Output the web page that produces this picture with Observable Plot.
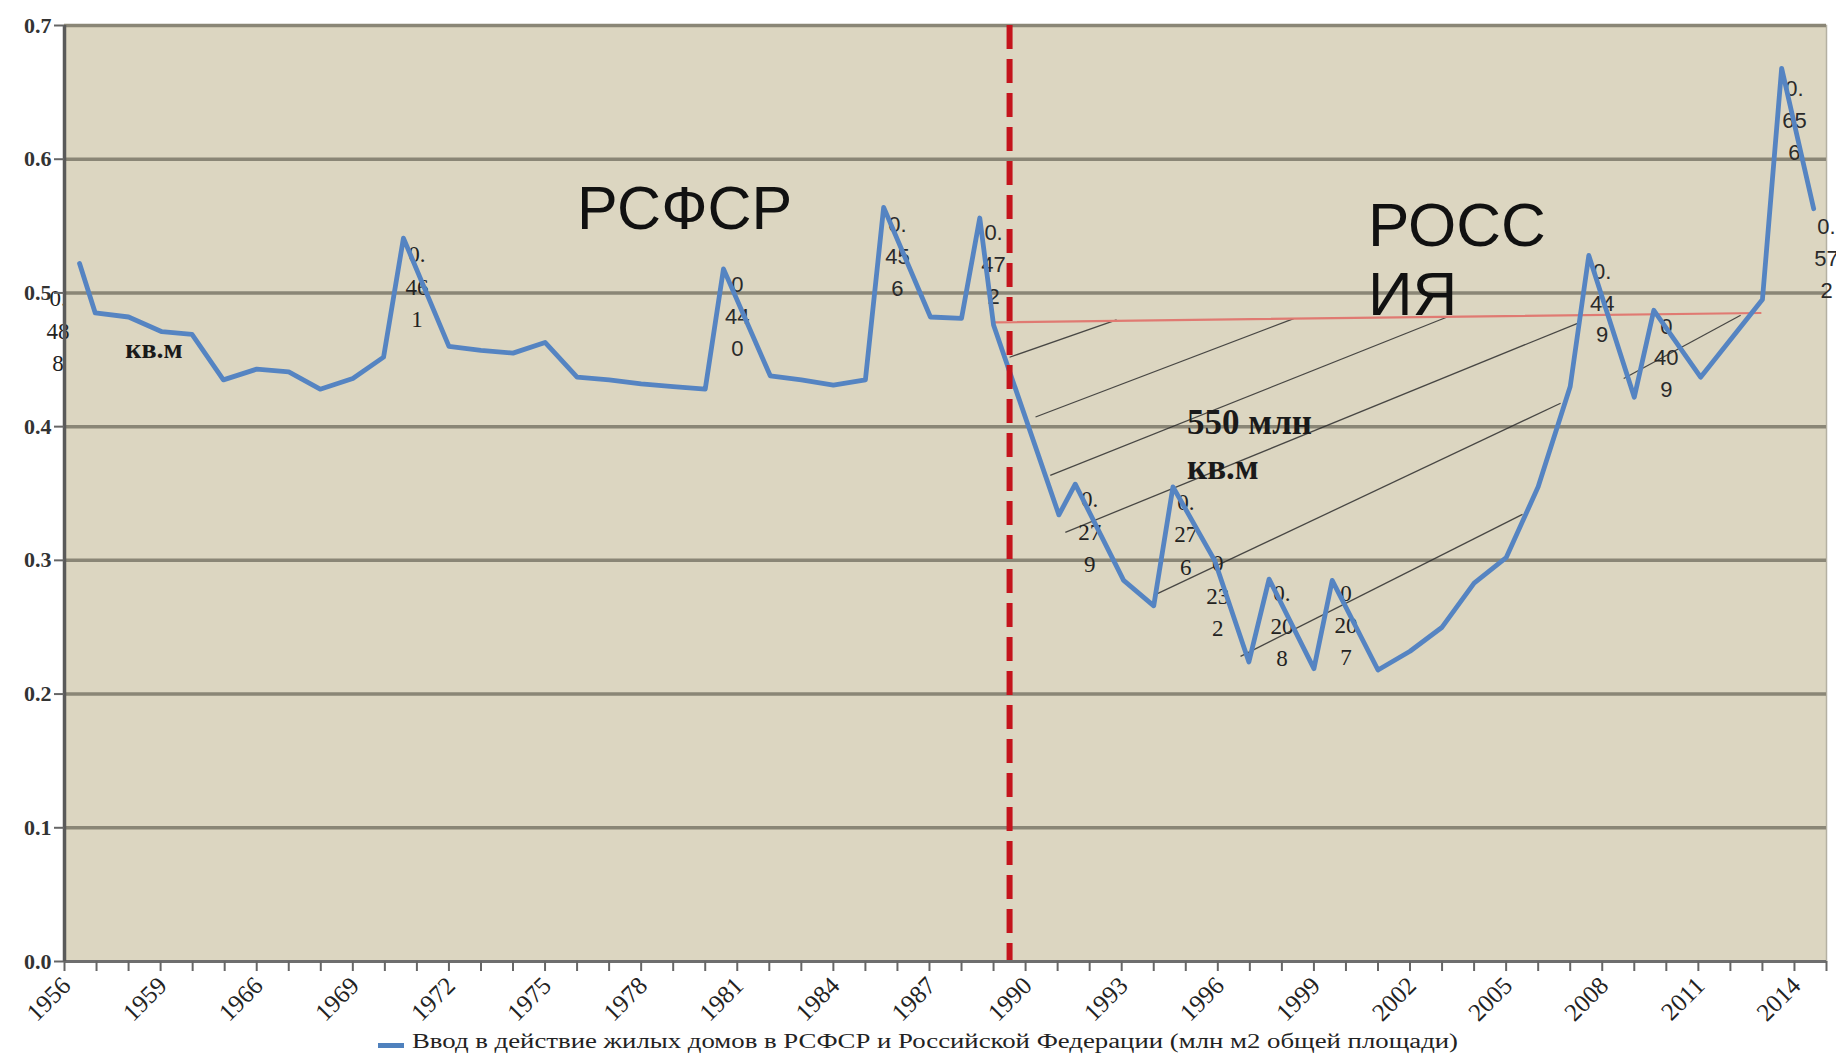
<!DOCTYPE html>
<html>
<head>
<meta charset="utf-8">
<script src="https://cdn.jsdelivr.net/npm/d3@7"></script>
<script src="https://cdn.jsdelivr.net/npm/@observablehq/plot@0.6"></script>
<style>
  html, body { margin: 0; padding: 0; background: #ffffff; overflow: hidden; }
  #chart svg { display: block; }
  #legend { position: relative; width: 1836px; height: 31px; }
  #swatch { position: absolute; left: 378px; top: 13px; width: 26px; height: 5px; background: #4f81bd; }
  #ltext { position: absolute; left: 412px; top: 0; line-height: 31px; font: 20px "Liberation Serif", serif; color: #222; white-space: nowrap; transform-origin: 0 50%; }
</style>
</head>
<body>
<div id="chart"></div>
<div id="legend"><div id="swatch"></div><span id="ltext"></span></div>
<script>
// ---- categories (x axis, Excel-style category axis) ----
const categories = ["1956","1957","1958","1959","1960","1965","1966","1967","1968","1969",
  "1970","1971","1972","1973","1974","1975","1976","1977","1978","1979",
  "1980","1981","1982","1983","1984","1985","1986","1987","1988","1989",
  "1990","1991","1992","1993","1994","1995","1996","1997","1998","1999",
  "2000","2001","2002","2003","2004","2005","2006","2007","2008","2009",
  "2010","2011","2012","2013","2014","2015"];
const tickLabels = ["1956","1959","1966","1969","1972","1975","1978","1981","1984","1987",
  "1990","1993","1996","1999","2002","2005","2008","2011","2014"];
const yTicks = [0, 0.1, 0.2, 0.3, 0.4, 0.5, 0.6, 0.7];
const gridValues = [0.1, 0.2, 0.3, 0.4, 0.5, 0.6, 0.7];

// ---- series (position in category units, value) ----
const seriesPos = [0.47,0.96,2,3.04,3.98,4.96,6,7,7.98,9,9.96,10.58,12,13,14,15,16,17,18,19,20,20.57,
  22.03,23,24,25,25.57,27.03,28,28.57,29,31.04,31.55,33.06,34,34.6,35.9,36.97,37.6,39,39.57,41,
  42,43,44,45,46,47,47.58,49,49.61,51.07,53,53.6,54.6];
const seriesValue = [0.522,0.485,0.482,0.471,0.469,0.435,0.443,0.441,0.428,0.436,0.452,0.541,0.460,
  0.457,0.455,0.463,0.437,0.435,0.432,0.430,0.428,0.518,0.438,0.435,0.431,0.435,0.564,0.482,0.481,
  0.556,0.476,0.334,0.357,0.285,0.266,0.355,0.300,0.224,0.286,0.219,0.285,0.218,0.232,0.250,0.283,
  0.302,0.355,0.430,0.528,0.422,0.487,0.437,0.495,0.668,0.563];

// ---- data labels (wrapped, as in the original) ----
const labelPos   = [-0.2, 11, 21, 26, 29, 32, 35, 36, 38, 40, 48, 50, 54, 55];
const labelValue = [0.4736,0.5065,0.4846,0.5295,0.523,0.3232,0.3212,0.2753,0.2529,0.2533,0.4945,0.4534,0.6307,0.5275];
const labelText  = ["0.\n48\n8","0.\n46\n1","0\n44\n0","0.\n45\n6","0.\n47\n2","0.\n27\n9","0.\n27\n6",
  "0\n23\n2","0.\n20\n8","0\n20\n7","0.\n44\n9","0\n40\n9","0.\n65\n6","0.\n57\n2"];
const serifLabelPos = [-0.2, 11, 32, 35, 36, 38, 40];

// ---- annotations ----
const separatorPos = [29.5];                 // boundary RSFSR / Russia
const referenceLine = [[29.0, 0.478], [52.94, 0.485]];
const hatchFrom = [[29.50,0.4519],[30.31,0.4072],[30.77,0.3636],[31.24,0.3210],[34.0,0.2738],[36.71,0.2282],[48.67,0.4360]];
const hatchTo   = [[32.84,0.4798],[38.37,0.4808],[43.16,0.4820],[47.23,0.4773],[46.70,0.4175],[45.51,0.3344],[52.32,0.4833]];
const regionLeft = {text: "РСФСР", pos: 16.0, value: 0.548};
const regionRight = {text: "РОСС\nИЯ", pos: 40.69, value: 0.4833};
const deficitLabel = {text: "550 млн\nкв.м", pos: 35.04, value: 0.3611};
const unitLabel = {text: "кв.м", pos: 1.9, value: 0.451};
const legendText = "Ввод в действие жилых домов в РСФСР и Российской Федерации (млн м2 общей площади)";

const series = seriesPos.map((p, i) => ({x: p, y: seriesValue[i]}));
const labels = labelPos.map((p, i) => ({x: p, y: labelValue[i], text: labelText[i]}));
const hatch = hatchFrom.map((a, i) => ({x1: a[0], y1: a[1], x2: hatchTo[i][0], y2: hatchTo[i][1]}));
const refLine = referenceLine.map(d => ({x: d[0], y: d[1]}));
const allIdx = categories.map((d, i) => i);
const labelIdx = tickLabels.map(t => categories.indexOf(t));

const chart = Plot.plot({
  width: 1836,
  height: 1030,
  marginLeft: 64,
  marginRight: 10,
  marginTop: 25,
  marginBottom: 69,
  x: {type: "linear", domain: [0, categories.length - 1], axis: null},
  y: {domain: [0, 0.7], axis: null},
  style: {background: "#ffffff", overflow: "visible"},
  marks: [
    Plot.frame({fill: "#dcd6c1", stroke: "#b4b0a2", strokeWidth: 1.5}),
    Plot.ruleY(gridValues, {stroke: "#8a8676", strokeWidth: 3.5}),
    Plot.link(hatch, {x1: "x1", y1: "y1", x2: "x2", y2: "y2", stroke: "#2e2e2e", strokeWidth: 1.3, strokeOpacity: 0.85}),
    Plot.line(refLine, {x: "x", y: "y", stroke: "#e07a72", strokeWidth: 2.2}),
    Plot.text(labels.filter(d => serifLabelPos.includes(d.x)), {x: "x", y: "y", text: "text", textAnchor: "middle", lineAnchor: "middle",
      lineHeight: 1.4, fontSize: 23, fontFamily: "Liberation Serif", fill: "#222"}),
    Plot.text(labels.filter(d => !serifLabelPos.includes(d.x)), {x: "x", y: "y", text: "text", textAnchor: "middle", lineAnchor: "middle",
      lineHeight: 1.45, fontSize: 22, fontFamily: "Liberation Sans", fill: "#2a2a2a"}),
    Plot.line(series, {x: "x", y: "y", stroke: "#5584c2", strokeWidth: 4.8, strokeLinejoin: "round", strokeLinecap: "round"}),
    Plot.ruleX(separatorPos, {stroke: "#c4141c", strokeWidth: 6, strokeDasharray: "24,10"}),
    Plot.text([regionLeft], {x: "pos", y: "value", text: "text", textAnchor: "start", lineAnchor: "bottom",
      fontSize: 61, fontFamily: "Liberation Sans", fill: "#111"}),
    Plot.text([regionRight], {x: "pos", y: "value", text: "text", textAnchor: "start", lineAnchor: "bottom",
      lineHeight: 1.12, fontSize: 62, fontFamily: "Liberation Sans", fill: "#111"}),
    Plot.text([deficitLabel], {x: "pos", y: "value", text: "text", textAnchor: "start", lineAnchor: "bottom",
      lineHeight: 1.29, fontSize: 35, fontWeight: "bold", fontFamily: "Liberation Serif", fill: "#1a1a1a"}),
    Plot.text([unitLabel], {x: "pos", y: "value", text: "text", textAnchor: "start", lineAnchor: "bottom",
      fontSize: 28, fontWeight: "bold", fontFamily: "Liberation Serif", fill: "#1a1a1a"}),
    Plot.ruleY([0], {stroke: "#6e6e6e", strokeWidth: 3}),
    Plot.ruleX([0], {stroke: "#5a5a5a", strokeWidth: 3.5}),
    Plot.axisY({ticks: yTicks, tickSize: 10, tickPadding: 3, tickFormat: d => d.toFixed(1), label: null,
      stroke: "#666", strokeWidth: 2, fontSize: 22, fontWeight: "bold", fontFamily: "Liberation Serif", fill: "#333"}),
    Plot.axisX({ticks: allIdx, tickSize: 10, tickFormat: () => "", label: null, stroke: "#666", strokeWidth: 2}),
    Plot.text(labelIdx, {x: d => d, text: i => categories[i], frameAnchor: "bottom", dx: 2, dy: 20, rotate: -45,
      textAnchor: "end", lineAnchor: "middle", fontSize: 25, fontFamily: "Liberation Serif", fill: "#222"})
  ]
});
document.getElementById("chart").appendChild(chart);

const lt = document.getElementById("ltext");
lt.textContent = legendText;
const w = lt.getBoundingClientRect().width;
lt.style.transform = `scaleX(${(1046 / w).toFixed(4)})`;
</script>
</body>
</html>
